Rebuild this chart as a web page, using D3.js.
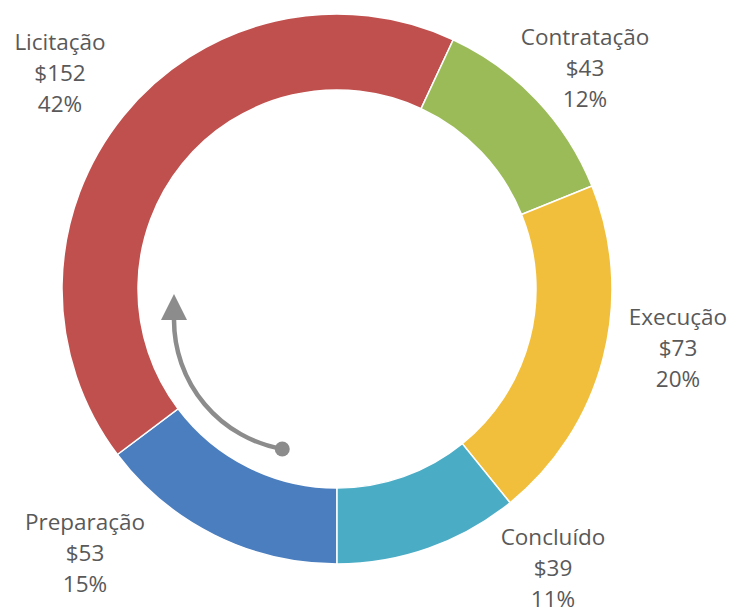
<!DOCTYPE html>
<html>
<head>
<meta charset="utf-8">
<script src="https://cdn.jsdelivr.net/npm/d3@7/dist/d3.min.js"></script>
<style>
  html, body { margin: 0; padding: 0; background: #fff; }
  svg { display: block; }
</style>
</head>
<body>
<svg id="chart" width="734" height="613"></svg>
<script>
// ---- data ----
const categories = ["Preparação", "Licitação", "Contratação", "Execução", "Concluído"];
const values = [53, 152, 43, 73, 39];
const colors = ["#4A7EBF", "#C0504D", "#9BBB59", "#F2BF3C", "#4BACC6"];

// ---- layout (label anchor points, in px) ----
const labelAnchors = [
  [85, 530], [60, 50], [585, 45], [678, 325], [553, 545]
];

const W = 734, H = 613;
const cx = 337, cy = 289, rOuter = 275, rInner = 199;
const svg = d3.select("#chart");
const g = svg.append("g").attr("transform", `translate(${cx},${cy})`);

const total = d3.sum(values);
const pie = d3.pie().sort(null).value(d => d.v)
  .startAngle(Math.PI).endAngle(3 * Math.PI);
const data = categories.map((c, i) => ({ c, v: values[i], col: colors[i] }));
const arcs = pie(data);
const arc = d3.arc().innerRadius(rInner).outerRadius(rOuter);

g.selectAll("path.slice").data(arcs).join("path")
  .attr("class", "slice")
  .attr("d", arc)
  .attr("fill", d => d.data.col)
  .attr("stroke", "#fff")
  .attr("stroke-width", 1.5);

// ---- labels ----
const fmtPct = d3.format(".0%");
const lab = svg.append("g")
  .attr("font-family", "'Open Sans', sans-serif")
  .attr("font-size", 22.5)
  .attr("fill", "#595959")
  .attr("text-anchor", "middle");
arcs.forEach((d, i) => {
  const [x, y] = labelAnchors[i];
  const t = lab.append("text").attr("x", x).attr("y", y);
  const lines = [d.data.c, "$" + d.data.v, fmtPct(d.data.v / total)];
  lines.forEach((s, j) => {
    t.append("tspan").attr("x", x).attr("dy", j === 0 ? 0 : 31).text(s);
  });
});

// ---- arrow (process direction) ----
const acx = 305, acy = 320, aR = 131;
const deg = Math.PI / 180;
const a0 = 190 * deg, a1 = 270 * deg;
const ap = d3.path();
ap.arc(acx, acy, aR, a0 - Math.PI / 2, a1 - Math.PI / 2, false);
svg.append("path")
  .attr("d", ap.toString())
  .attr("fill", "none")
  .attr("stroke", "#8C8C8C")
  .attr("stroke-width", 4.5);
const dotX = acx + aR * Math.sin(a0), dotY = acy - aR * Math.cos(a0);
svg.append("circle").attr("cx", dotX).attr("cy", dotY).attr("r", 7.5).attr("fill", "#8C8C8C");
const bx = acx + aR * Math.sin(a1), by = acy - aR * Math.cos(a1);
svg.append("path")
  .attr("d", `M${bx},${by - 26}L${bx + 13},${by}L${bx - 13},${by}Z`)
  .attr("fill", "#8C8C8C");
</script>
</body>
</html>
